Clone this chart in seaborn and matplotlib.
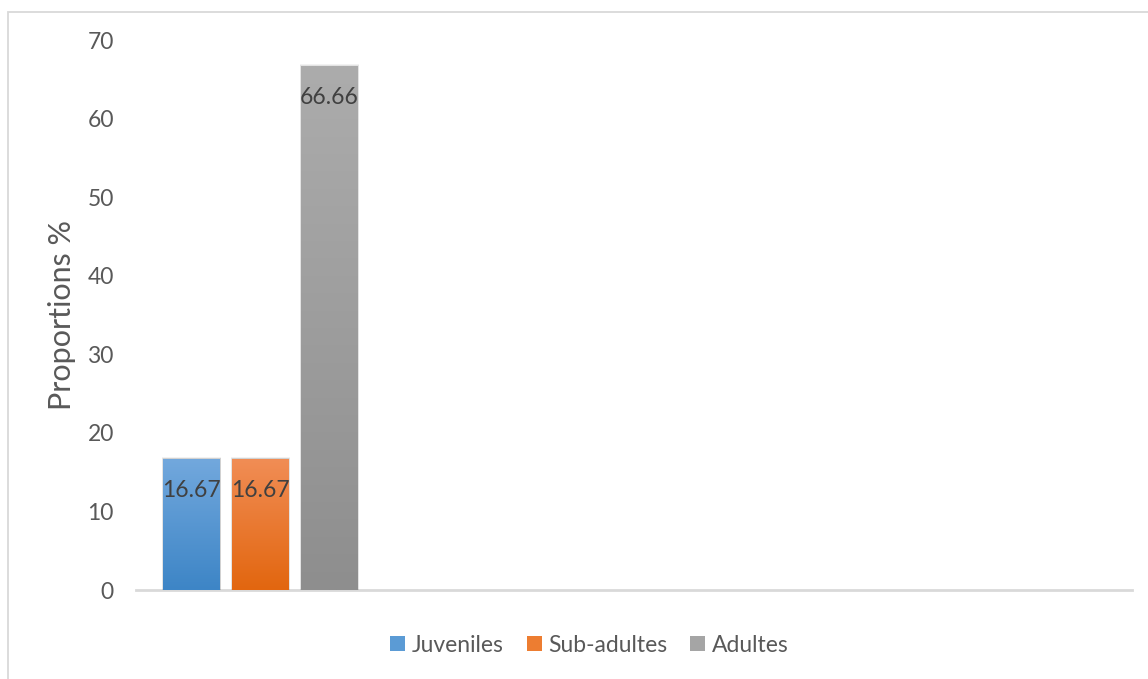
import numpy as np
import pandas as pd
import matplotlib
matplotlib.use("Agg")
import matplotlib.pyplot as plt
import matplotlib.patches as mpatches
from matplotlib.colors import LinearSegmentedColormap
import seaborn as sns

# Age classes and their share of the sample (%)
groups = ["Juveniles", "Sub-adultes", "Adultes"]
proportions = [16.67, 16.67, 66.66]
value_labels = ["16.67", "16.67", "66.66"]
y_ticks = [0, 10, 20, 30, 40, 50, 60, 70]
y_label = "Proportions %"

# top / bottom colours of each bar's vertical gradient
top_colors = ["#72A8DD", "#F18D55", "#ACACAC"]
bottom_colors = ["#3D85C6", "#E2660F", "#8E8E8E"]
base_colors = ["#5B9BD5", "#ED7D31", "#A5A5A5"]

sns.set_theme(style="white")
plt.rcParams["font.family"] = ["Lato", "DejaVu Sans"]

df = pd.DataFrame({"cat": [""] * len(groups), "group": groups, "value": proportions})

fig = plt.figure(figsize=(11.48, 6.79), dpi=100)
ax = fig.add_axes([0.1185, 0.131, 0.8675, 0.81])

sns.barplot(data=df, x="cat", y="value", hue="group", hue_order=groups,
            palette=base_colors, width=0.83, gap=0.173, ax=ax, legend=False,
            errorbar=None, saturation=1, linewidth=0, edgecolor="none")

ax.set_xlim(-0.5, 3.5)
ax.set_ylim(0, 70)
ax.set_yticks(y_ticks)
ax.set_yticklabels([str(t) for t in y_ticks], color="#595959", fontsize=16.5)
ax.set_xticks([])
ax.set_xlabel("")
ax.set_ylabel(y_label, fontsize=22, color="#595959", labelpad=8)
ax.tick_params(axis="y", length=0, pad=16)

for s in ["top", "right", "left"]:
    ax.spines[s].set_visible(False)
ax.spines["bottom"].set_color("#D9D9D9")
ax.spines["bottom"].set_linewidth(2)
ax.spines["bottom"].set_zorder(0.5)

# gradient fill + soft shadow on every bar
bars = [p for p in ax.patches if isinstance(p, mpatches.Rectangle)]
bars = sorted(bars, key=lambda p: p.get_x())
grad = np.linspace(0, 1, 256).reshape(-1, 1)
for bar, c_top, c_bot, lab in zip(bars, top_colors, bottom_colors, value_labels):
    x0, w, h = bar.get_x(), bar.get_width(), bar.get_height()
    for k, a in [(0.012, 0.05), (0.008, 0.06), (0.004, 0.08)]:
        sh = mpatches.Rectangle((x0 - k * 0.4, -0.5), w + k * 0.8, h + 0.5 + k * 20,
                                facecolor="black", edgecolor="none", alpha=a, zorder=1)
        ax.add_patch(sh)
    bar.set_zorder(2)
    cmap = LinearSegmentedColormap.from_list("g", [c_bot, c_top])
    im = ax.imshow(grad, cmap=cmap, aspect="auto", origin="lower",
                   extent=[x0, x0 + w, 0, h], zorder=3)
    im.set_clip_path(bar)
    ax.text(x0 + w / 2, h - 2.6, lab, ha="center", va="top",
            fontsize=16.5, color="#404040", zorder=4)

ax.set_xlim(-0.5, 3.5)
ax.set_ylim(0, 70)

handles = [mpatches.Patch(facecolor=c, edgecolor="none") for c in base_colors]
fig.legend(handles, groups, loc="center", bbox_to_anchor=(0.5135, 0.05), ncol=3,
           frameon=False, fontsize=16.5, labelcolor="#595959",
           handlelength=0.65, handleheight=0.65, handletextpad=0.3,
           columnspacing=1.0)

# chart area border
border = mpatches.Rectangle((8 / 1148, -0.1), 1.2, 1 - 12 / 679 + 0.1,
                            transform=fig.transFigure, fill=False,
                            edgecolor="#D9D9D9", linewidth=1.3)
fig.add_artist(border)

fig.savefig("out.png", dpi=100, facecolor="white")
